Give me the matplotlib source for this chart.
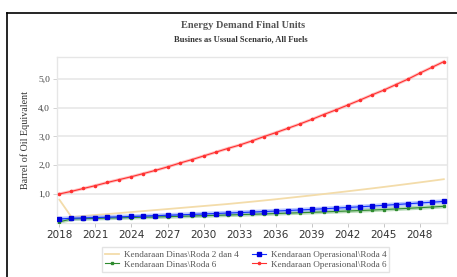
import numpy as np
import matplotlib.pyplot as plt
from matplotlib.lines import Line2D

years = list(range(2018, 2051))

dinas_r24 = [0.80, 0.20, 0.235, 0.27, 0.30, 0.335, 0.37, 0.405, 0.44, 0.475, 0.51,
             0.545, 0.58, 0.615, 0.65, 0.69, 0.73, 0.772, 0.815, 0.86, 0.905, 0.95,
             0.997, 1.045, 1.093, 1.142, 1.192, 1.243, 1.295, 1.348, 1.402, 1.457, 1.513]
dinas_r6 = [0.03, 0.13, 0.14, 0.15, 0.16, 0.17, 0.18, 0.19, 0.20, 0.211, 0.222,
            0.233, 0.244, 0.256, 0.268, 0.28, 0.293, 0.306, 0.319, 0.333, 0.347, 0.361,
            0.376, 0.391, 0.407, 0.423, 0.44, 0.458, 0.478, 0.50, 0.522, 0.545, 0.57]
oper_r4 = [0.13, 0.155, 0.167, 0.179, 0.191, 0.204, 0.217, 0.231, 0.245, 0.259, 0.274,
           0.289, 0.304, 0.32, 0.336, 0.352, 0.369, 0.387, 0.405, 0.424, 0.443, 0.463,
           0.484, 0.506, 0.529, 0.553, 0.578, 0.604, 0.631, 0.658, 0.685, 0.712, 0.74]
oper_r6 = [1.00, 1.09, 1.19, 1.29, 1.40, 1.50, 1.60, 1.71, 1.82, 1.94, 2.07,
           2.19, 2.32, 2.45, 2.58, 2.70, 2.84, 2.99, 3.13, 3.28, 3.43, 3.59,
           3.76, 3.92, 4.09, 4.26, 4.44, 4.61, 4.80, 4.99, 5.20, 5.40, 5.60]

labels = ["Kendaraan Dinas\\Roda 2 dan 4", "Kendaraan Dinas\\Roda 6",
          "Kendaraan Operasional\\Roda 4", "Kendaraan Operasional\\Roda 6"]
xticks = list(range(2018, 2050, 3))
yticks = [1, 2, 3, 4, 5]

fig = plt.figure(figsize=(4.57, 2.77), dpi=100)
ax = fig.add_axes([0.1247, 0.196, 0.853, 0.598])

# pale halos under the marker series
ax.plot(years, dinas_r6, color='#7fbf7f', lw=3, alpha=0.55, zorder=2)
ax.plot(years, oper_r4, color='#8fa6ff', lw=3.2, alpha=0.6, zorder=3)
ax.plot(years, oper_r6, color='#ff9a9a', lw=2.2, alpha=0.6, zorder=4)

h1, = ax.plot(years, dinas_r24, color='#f3dcaa', lw=1.3, zorder=2, label=labels[0])
h2, = ax.plot(years, dinas_r6, color='#2e8b2e', lw=0.8, marker='s', ms=1.8,
              zorder=3, label=labels[1])
h3, = ax.plot(years, oper_r4, color='#1030ff', lw=0.8, marker='s', ms=3.2,
              mfc='#0000dd', mec='#0000dd', zorder=4, label=labels[2])
h4, = ax.plot(years, oper_r6, color='#ff3030', lw=0.8, marker='o', ms=1.6,
              zorder=5, label=labels[3])

ax.set_xlim(2017.8, 2050.25)
ax.set_ylim(0, 5.76)
ax.set_xticks(xticks)
ax.set_xticklabels([str(x) for x in xticks], fontsize=7.5, color='#333333',
                   family='DejaVu Sans')
ax.set_yticks(yticks)
ax.set_yticklabels(["%d,0" % y for y in yticks], fontsize=6.8, color='#444444',
                   family='Liberation Serif')
ax.tick_params(axis='x', length=3, width=0.6, color='#bbbbbb', pad=2)
ax.tick_params(axis='y', length=3, width=0.6, color='#cccccc', pad=2)
ax.grid(axis='y', color='#e8e8e8', lw=1.2, zorder=0)
for s in ax.spines.values():
    s.set_color('#e6e6e6')
    s.set_linewidth(1)

ax.set_ylabel("Barrel of Oil Equivalent", fontsize=7.2, family='Liberation Serif',
              color='#333333', labelpad=6)

fig.text(0.532, 0.909, "Energy Demand Final Units", ha='center', va='center',
         fontsize=7.5, fontweight='bold', family='Liberation Serif', color='#555555')
fig.text(0.528, 0.858, "Busines as Ussual Scenario, All Fuels", ha='center',
         va='center', fontsize=6.1, fontweight='bold', family='Liberation Serif',
         color='#333333')

leg = fig.legend(handles=[h1, h2, h3, h4], ncol=2, loc='center',
                 bbox_to_anchor=(0.538, 0.063), frameon=True,
                 fancybox=False, edgecolor='#dddddd', handlelength=1.5,
                 columnspacing=1.5, handletextpad=0.5, borderpad=0.35,
                 labelspacing=0.15, prop={'family': 'Liberation Serif', 'size': 6.6})
for t in leg.get_texts():
    t.set_color('#555555')

# black frame of the screenshot (left and top edges)
fig.add_artist(Line2D([0.016, 0.016], [0, 0.954], color='black', lw=1.2,
                      transform=fig.transFigure))
fig.add_artist(Line2D([0.016, 1.0], [0.954, 0.954], color='black', lw=1.2,
                      transform=fig.transFigure))

fig.savefig('out.png', dpi=100)
